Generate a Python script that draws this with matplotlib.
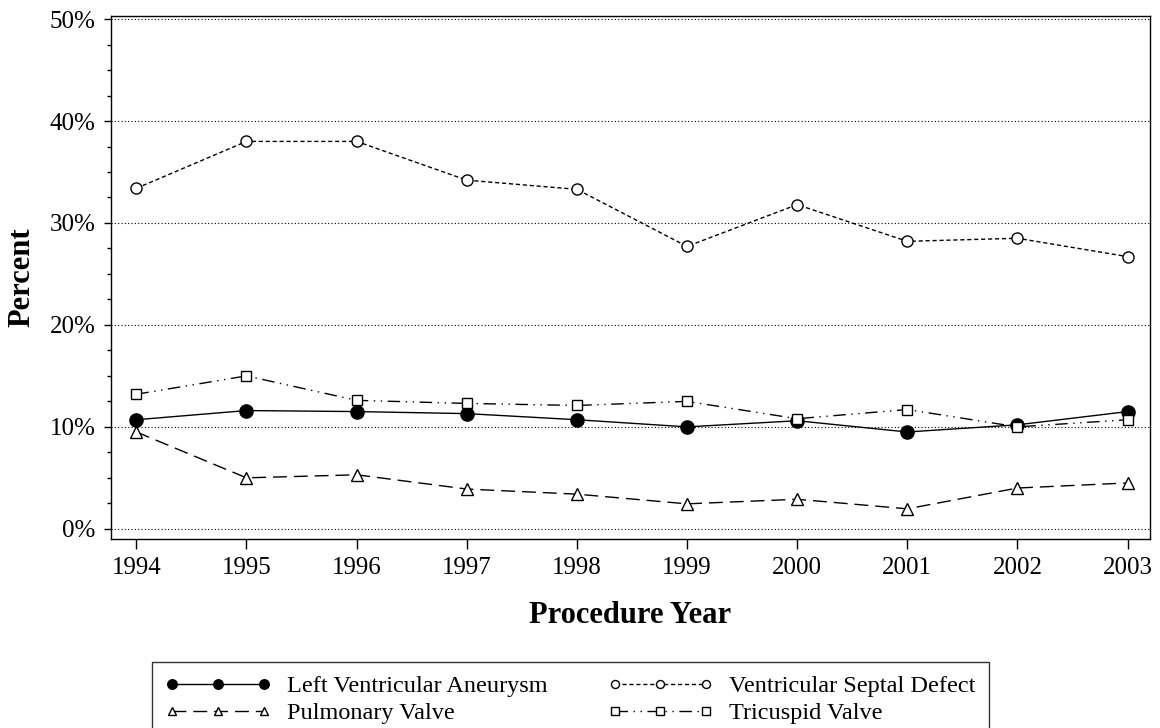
import matplotlib
matplotlib.use('Agg')
import matplotlib.pyplot as plt
from matplotlib.ticker import MultipleLocator, PercentFormatter

plt.rcParams['font.family'] = ['Liberation Serif', 'DejaVu Serif']

years = [1994, 1995, 1996, 1997, 1998, 1999, 2000, 2001, 2002, 2003]
lva = [10.7, 11.6, 11.5, 11.3, 10.7, 10.0, 10.6, 9.5, 10.2, 11.5]
vsd = [33.4, 38.0, 38.0, 34.2, 33.3, 27.7, 31.8, 28.2, 28.5, 26.7]
pulm = [9.5, 5.0, 5.3, 3.9, 3.4, 2.45, 2.9, 1.96, 4.0, 4.5]
tric = [13.2, 15.0, 12.6, 12.3, 12.1, 12.5, 10.8, 11.7, 10.0, 10.7]

fig = plt.figure(figsize=(11.6, 7.28), dpi=100)
ax = fig.add_axes([0.0957, 0.2596, 0.8953, 0.7184])

ax.plot(years, lva, color='black', lw=1.0, ls='-', marker='o', ms=9.5,
        mfc='black', mec='black', label='Left Ventricular Aneurysm')
ax.plot(years, vsd, color='black', lw=1.0, ls=(0, (3, 2)), marker='o', ms=8,
        mfc='white', mec='black', mew=1.0, label='Ventricular Septal Defect')
ax.plot(years, pulm, color='black', lw=1.0, ls=(0, (10, 5)), marker='^', ms=8.5,
        mfc='white', mec='black', mew=1.0, label='Pulmonary Valve')
ax.plot(years, tric, color='black', lw=1.0, ls=(0, (9, 4, 1, 4, 1, 4)), marker='s', ms=7.5,
        mfc='white', mec='black', mew=1.0, label='Tricuspid Valve')

ax.set_xlim(1993.77, 2003.2)
ax.set_ylim(-1.0, 50.3)
ax.set_xticks(years)
ax.yaxis.set_major_locator(MultipleLocator(10))
ax.yaxis.set_minor_locator(MultipleLocator(2.5))
ax.yaxis.set_major_formatter(PercentFormatter(decimals=0))
ax.grid(axis='y', which='major', ls=(0, (1, 2)), color='black', lw=0.8)
ax.tick_params(axis='x', which='major', direction='out', length=7, labelsize=18, width=1, pad=6)
ax.tick_params(axis='y', which='major', direction='out', length=5, labelsize=18, width=1, pad=6)
ax.tick_params(axis='y', which='minor', direction='out', length=3, width=1)
for sp in ax.spines.values():
    sp.set_linewidth(1.0)

ax.set_xlabel('Procedure Year', fontsize=22, fontweight='bold', labelpad=16)
ax.set_ylabel('Percent', fontsize=22, fontweight='bold', labelpad=10)

handles, labels = ax.get_legend_handles_labels()
order = [0, 2, 1, 3]
leg = fig.legend([handles[i] for i in order], [labels[i] for i in order],
                 loc='upper left', bbox_to_anchor=(152 / 1160, 1 - 662 / 728),
                 bbox_transform=fig.transFigure, borderaxespad=0,
                 ncol=2, numpoints=3, markerscale=0.72, handlelength=4.35,
                 fontsize=17.5, frameon=True, fancybox=False, edgecolor='black',
                 borderpad=0.54, labelspacing=0.22, columnspacing=2.47,
                 handletextpad=0.66)
leg.get_frame().set_linewidth(1.0)

fig.savefig('out.png', dpi=100)
